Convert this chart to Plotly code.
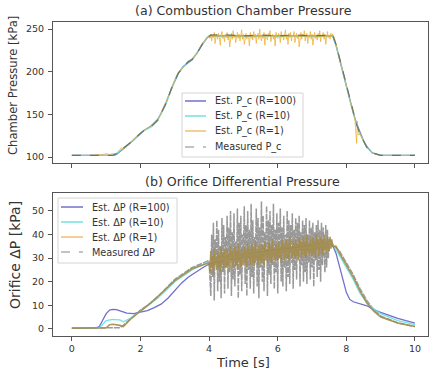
import plotly.graph_objects as go

# ---------------- Data: (a) chamber pressure ----------------
t_pc = [0.0, 0.5, 1.0, 1.2, 1.3, 1.4, 1.5, 1.6, 1.8, 1.95, 2.1, 2.3, 2.5, 2.6, 2.75, 2.9, 3.0, 3.1, 3.25, 3.4, 3.5,
        3.65, 3.8, 3.95, 4.05, 4.5, 5.0, 5.5, 6.0, 6.5, 7.0, 7.5, 7.6, 7.7, 7.8, 7.9, 8.0, 8.1, 8.2, 8.3, 8.4,
        8.5, 8.6, 8.75, 8.9, 9.0, 9.5, 10.0]
pc_meas = [102, 102, 102, 102, 104, 107, 110, 113, 120, 126, 131, 135, 143, 151, 163, 180, 190, 198, 206, 212, 214,
           222, 232, 240, 243, 243, 242, 243, 242, 243, 242, 243, 243, 232, 216, 200, 183, 167, 151, 138, 127,
           118, 111, 105, 103, 102, 102, 102]
pc_r100 = [102, 102, 102, 102, 103, 106, 109, 113, 120, 126, 131, 136, 144, 151, 164, 180, 190, 198, 206, 211, 214,
           222, 232, 240, 242, 242, 242, 242, 242, 242, 242, 242, 242, 231, 215, 199, 183, 167, 152, 139, 128,
           119, 112, 105, 103, 102, 102, 102]
pc_r10 = [102, 102, 102, 102, 104, 107, 110, 113, 120, 126, 131, 135, 143, 151, 163, 180, 190, 198, 206, 212, 214,
          222, 232, 240, 242, 241, 241, 242, 241, 242, 241, 242, 242, 231, 216, 200, 183, 167, 151, 138, 127,
          118, 111, 105, 103, 102, 102, 102]

t_pc_r1_rise = [0.0, 0.5, 0.9, 1.0, 1.1, 1.2, 1.3, 1.4, 1.45, 1.5, 1.6, 1.8, 1.95, 2.1, 2.3, 2.5, 2.6, 2.75, 2.9,
                3.0, 3.1, 3.25, 3.4, 3.5, 3.65, 3.8, 3.95]
pc_r1_rise = [102, 102, 103, 104, 103, 104, 104, 108, 111, 109, 113, 121, 127, 131, 136, 142, 152, 165, 179,
              191, 199, 205, 213, 215, 221, 233, 241]
# plateau samples every 0.025 s from 4.0 s
pc_r1_plateau = [242, 239, 244, 236, 243, 240, 246, 233, 241, 244,
                 238, 245, 240, 231, 243, 247, 239, 242, 235, 244,
                 240, 246, 237, 243, 229, 241, 245, 238, 248, 240,
                 243, 234, 242, 246, 239, 244, 236, 241, 249, 238,
                 244, 232, 240, 245, 238, 243, 241, 230, 246, 239,
                 242, 237, 247, 240, 244, 233, 242, 245, 238, 250,
                 241, 236, 243, 239, 246, 231, 244, 240, 237, 245,
                 242, 248, 235, 241, 244, 238, 243, 230, 246, 240,
                 239, 245, 242, 234, 247, 240, 243, 237, 244, 249,
                 238, 242, 232, 245, 240, 246, 236, 243, 241, 247,
                 234, 242, 245, 239, 243, 229, 240, 246, 238, 244,
                 241, 248, 236, 242, 245, 233, 243, 240, 247, 238,
                 244, 231, 242, 246, 239, 243, 237, 245, 240, 248,
                 235, 243, 241, 246, 238, 244, 232, 242, 247, 240,
                 243, 238, 245, 241, 244]
t_pc_r1_fall = [7.65, 7.7, 7.8, 7.9, 8.0, 8.1, 8.2, 8.25, 8.3, 8.32, 8.35, 8.4, 8.5, 8.6, 8.75, 8.9, 9.0, 9.5, 10.0]
pc_r1_fall = [240, 231, 215, 200, 183, 167, 151, 144, 116, 142, 126, 127, 118, 111, 105, 103, 102, 102, 102]

# ---------------- Data: (b) orifice differential pressure ----------------
t_dp_r100 = [0.0, 0.7, 0.8, 0.9, 1.0, 1.1, 1.2, 1.3, 1.4, 1.6, 1.8, 2.0, 2.2, 2.4, 2.6, 2.8, 3.0, 3.2, 3.4, 3.6, 3.8,
             4.0, 4.5, 5.0, 5.5, 6.0, 6.5, 7.0, 7.5, 7.6, 7.7, 7.8, 7.9, 8.0, 8.1, 8.2, 8.4, 8.6, 8.8, 9.0, 9.5, 10.0]
dp_r100 = [0.3, 0.5, 1.0, 4.0, 6.5, 8.0, 8.3, 8.2, 7.6, 6.7, 6.5, 7.0, 7.8, 9.0, 10.5, 13.0, 16.5, 19.5, 22.0, 24.0,
           25.8, 27.5, 29.5, 31.0, 32.5, 33.5, 34.5, 35.2, 35.8, 35.5, 32.0, 27.0, 21.0, 15.5, 12.5, 11.5, 10.8,
           9.8, 8.2, 7.0, 4.5, 2.5]

t_dp_r10 = [0.0, 0.8, 0.9, 1.0, 1.2, 1.4, 1.5, 1.7, 2.0, 2.5, 3.0, 3.5, 4.0, 5.0, 6.0, 7.0, 7.5, 7.6, 7.8, 8.0,
            8.2, 8.4, 8.6, 8.8, 9.0, 9.5, 10.0]
dp_r10 = [0.3, 0.5, 2.0, 3.5, 4.0, 3.8, 3.0, 4.5, 7.5, 13.0, 20.0, 25.0, 28.5, 31.0, 33.0, 35.0, 36.0, 36.0, 31.0,
          26.0, 21.0, 15.0, 11.0, 8.5, 6.5, 3.5, 1.8]

t_dp_r1_rise = [0.0, 1.0, 1.1, 1.2, 1.4, 1.5, 1.7, 2.0, 2.3, 2.6, 3.0, 3.5, 3.95]
dp_r1_rise = [0.3, 0.5, 1.8, 2.0, 1.5, 1.0, 4.0, 7.5, 11.0, 15.0, 20.5, 25.5, 28.0]
# plateau samples every 0.025 s from 4.0 s
dp_r1_plateau = [28, 24, 33, 26, 31, 23, 34, 27, 30, 25,
                 33, 26, 31, 24, 35, 28, 32, 25, 34, 29,
                 26, 34, 27, 32, 24, 35, 29, 33, 26, 31,
                 35, 27, 33, 25, 36, 29, 32, 26, 34, 30,
                 27, 35, 28, 33, 26, 36, 30, 34, 27, 32,
                 36, 28, 34, 27, 37, 30, 33, 27, 35, 31,
                 28, 36, 29, 35, 27, 37, 31, 34, 28, 33,
                 37, 29, 35, 28, 38, 31, 34, 29, 36, 32,
                 29, 37, 30, 35, 28, 38, 32, 36, 29, 34,
                 38, 30, 36, 29, 39, 32, 35, 30, 37, 33,
                 30, 38, 31, 36, 29, 39, 33, 37, 30, 35,
                 39, 31, 37, 30, 40, 33, 36, 31, 38, 34,
                 31, 39, 32, 37, 30, 40, 34, 38, 31, 36,
                 39, 32, 38, 31, 40, 34, 37, 32, 39, 35,
                 33, 39, 34, 38, 35]
t_dp_r1_fall = [7.7, 7.8, 8.0, 8.2, 8.4, 8.6, 8.8, 9.0, 9.5, 10.0]
dp_r1_fall = [35.0, 32.0, 27.0, 22.0, 16.0, 11.0, 7.5, 5.0, 2.5, 1.0]

t_dp_meas_rise = [0.0, 1.4, 1.5, 1.7, 2.0, 2.3, 2.6, 3.0, 3.5, 4.0]
dp_meas_rise = [0.3, 0.5, 1.5, 4.0, 8.0, 11.0, 15.0, 21.0, 26.0, 29.0]
# noisy samples every 0.025 s from 4.05 s
dp_meas_noisy = [14, 40, 22, 45, 12, 38, 28, 46, 16, 42, 20, 35, 13, 47, 24, 44, 15, 39, 26,
                 48, 17, 43, 29, 50, 14, 41, 21, 49, 18, 37, 27, 51, 13, 45, 23, 48, 16, 40,
                 30, 52, 19, 44, 14, 50, 25, 42, 17, 53, 22, 46, 15, 39, 28, 51, 18, 47, 13,
                 43, 26, 54, 20, 48, 16, 41, 29, 52, 14, 46, 23, 50, 19, 44, 27, 53, 17, 42,
                 24, 49, 15, 45, 30, 51, 20, 43, 18, 48, 26, 40, 16, 50, 22, 46, 19, 44, 28,
                 49, 17, 42, 25, 47, 21, 45, 30, 48, 18, 41, 27, 46, 20, 44, 24, 47, 19, 40,
                 28, 46, 21, 43, 26, 45, 18, 41, 29, 44, 22, 46, 25, 42, 20, 45, 27, 43, 35,
                 24, 44, 26, 42, 30, 38]
t_dp_meas_fall = [7.55, 7.6, 7.8, 8.0, 8.2, 8.4, 8.6, 8.8, 9.0, 9.5, 10.0]
dp_meas_fall = [37.0, 36.0, 33.0, 28.0, 23.0, 17.0, 12.0, 8.0, 5.5, 2.5, 1.0]

legend_a = ["Est. P_c (R=100)", "Est. P_c (R=10)", "Est. P_c (R=1)", "Measured P_c"]
legend_b = ["Est. ΔP (R=100)", "Est. ΔP (R=10)", "Est. ΔP (R=1)", "Measured ΔP"]

# ---------------- assemble series (time grids for the sampled segments) ----------------
t_pc_r1 = t_pc_r1_rise + [round(4.0 + 0.025 * i, 4) for i in range(len(pc_r1_plateau))] + t_pc_r1_fall
pc_r1 = pc_r1_rise + pc_r1_plateau + pc_r1_fall
t_dp_r1 = t_dp_r1_rise + [round(4.0 + 0.025 * i, 4) for i in range(len(dp_r1_plateau))] + t_dp_r1_fall
dp_r1 = dp_r1_rise + dp_r1_plateau + dp_r1_fall
t_dp_meas = t_dp_meas_rise + [round(4.05 + 0.025 * i, 4) for i in range(len(dp_meas_noisy))] + t_dp_meas_fall
dp_meas = dp_meas_rise + dp_meas_noisy + dp_meas_fall

FONT = "DejaVu Sans"
TXT = "#333333"
C_R100 = "rgba(95,95,200,0.9)"
C_R10 = "rgba(100,225,225,0.9)"
C_R1 = "rgba(240,170,40,0.8)"
LEG_COLORS = ["#7070c8", "#70e2e2", "#f2c070", "#b0b0b0"]
LEG_DASH = ["solid", "solid", "solid", "dash"]

W, H = 429, 373
L, R, T, B = 53, 1, 22, 37
PW, PH = W - L - R, H - T - B


def px(xpix):
    return (xpix - L) / PW


def py(ypix):
    return (H - B - ypix) / PH


fig = go.Figure()

# top panel
fig.add_trace(go.Scatter(x=t_pc, y=pc_r100, mode="lines", line=dict(color=C_R100, width=1.3),
                         xaxis="x", yaxis="y"))
fig.add_trace(go.Scatter(x=t_pc, y=pc_r10, mode="lines", line=dict(color=C_R10, width=1.3),
                         xaxis="x", yaxis="y"))
fig.add_trace(go.Scatter(x=t_pc_r1, y=pc_r1, mode="lines", line=dict(color=C_R1, width=0.9),
                         xaxis="x", yaxis="y"))
fig.add_trace(go.Scatter(x=t_pc, y=pc_meas, mode="lines",
                         line=dict(color="rgba(90,100,90,0.8)", width=1.2, dash="dash"), xaxis="x", yaxis="y"))

# bottom panel
fig.add_trace(go.Scatter(x=t_dp_meas, y=dp_meas, mode="lines",
                         line=dict(color="rgba(135,135,135,0.85)", width=1.5, dash="6px,1px"),
                         xaxis="x2", yaxis="y2"))
fig.add_trace(go.Scatter(x=t_dp_r100, y=dp_r100, mode="lines", line=dict(color=C_R100, width=1.3),
                         xaxis="x2", yaxis="y2"))
fig.add_trace(go.Scatter(x=t_dp_r10, y=dp_r10, mode="lines", line=dict(color=C_R10, width=1.3),
                         xaxis="x2", yaxis="y2"))
fig.add_trace(go.Scatter(x=t_dp_r1, y=dp_r1, mode="lines", line=dict(color="rgba(165,140,75,0.9)", width=1.6),
                         xaxis="x2", yaxis="y2"))

axis_common = dict(showline=True, mirror=True, linecolor="#555", linewidth=1, ticks="outside",
                   ticklen=4, tickcolor="#555", showgrid=False, zeroline=False,
                   tickfont=dict(family=FONT, size=9.5, color=TXT))

shapes = []
annotations = []


def add_legend(box, rows, line_x, text_x, labels):
    x0, y0, x1, y1 = box
    shapes.append(dict(type="rect", xref="paper", yref="paper", x0=px(x0), x1=px(x1), y0=py(y1), y1=py(y0),
                       line=dict(color="#d4d4d4", width=1), fillcolor="rgba(255,255,255,0.85)", layer="above"))
    for i, lab in enumerate(labels):
        yy = py(rows[i])
        shapes.append(dict(type="line", xref="paper", yref="paper", x0=px(line_x[0]), x1=px(line_x[1]),
                           y0=yy, y1=yy, line=dict(color=LEG_COLORS[i], width=1.5, dash=LEG_DASH[i]),
                           layer="above"))
        annotations.append(dict(text=lab, x=px(text_x), y=yy, xref="paper", yref="paper", xanchor="left",
                                yanchor="middle", showarrow=False, font=dict(family=FONT, size=9.7, color=TXT)))


add_legend((182, 93, 303, 157), [101, 116, 131, 147], (185, 206), 213, legend_a)
add_legend((58, 198, 177, 263), [207, 222, 237, 252], (61, 83), 90, legend_b)

annotations += [
    dict(text="(a) Combustion Chamber Pressure", x=px(243), y=py(10), xref="paper", yref="paper",
         xanchor="center", yanchor="middle", showarrow=False, font=dict(family=FONT, size=12.6, color=TXT)),
    dict(text="(b) Orifice Differential Pressure", x=px(242), y=py(181), xref="paper", yref="paper",
         xanchor="center", yanchor="middle", showarrow=False, font=dict(family=FONT, size=12.6, color=TXT)),
    dict(text="Chamber Pressure [kPa]", x=px(13), y=py(86), xref="paper", yref="paper", textangle=-90,
         xanchor="center", yanchor="middle", showarrow=False, font=dict(family=FONT, size=11.6, color=TXT)),
    dict(text="Orifice ΔP [kPa]", x=px(15), y=py(255), xref="paper", yref="paper", textangle=-90,
         xanchor="center", yanchor="middle", showarrow=False, font=dict(family=FONT, size=14, color=TXT)),
    dict(text="Time [s]", x=px(243), y=py(362), xref="paper", yref="paper",
         xanchor="center", yanchor="middle", showarrow=False, font=dict(family=FONT, size=13, color=TXT)),
]

fig.update_layout(
    width=W, height=H,
    margin=dict(l=L, r=R, t=T, b=B),
    paper_bgcolor="white", plot_bgcolor="white",
    showlegend=False,
    xaxis=dict(domain=[0, 1], range=[-0.55, 10.38], tickvals=[0, 2, 4, 6, 8, 10], showticklabels=False,
               anchor="y", **axis_common),
    yaxis=dict(domain=[py(163), 1], range=[93, 258.2], tickvals=[100, 150, 200, 250], anchor="x",
               ticklabelstandoff=2, **axis_common),
    xaxis2=dict(domain=[0, 1], range=[-0.55, 10.38], tickvals=[0, 2, 4, 6, 8, 10], anchor="y2",
                **axis_common),
    yaxis2=dict(domain=[0, py(193)], range=[-3, 57.6], tickvals=[0, 10, 20, 30, 40, 50], anchor="x2",
                ticklabelstandoff=2, **axis_common),
    shapes=shapes,
    annotations=annotations,
)

fig.write_html("out.html", config={"displayModeBar": False},
               post_script="document.body.style.margin='0px';")
